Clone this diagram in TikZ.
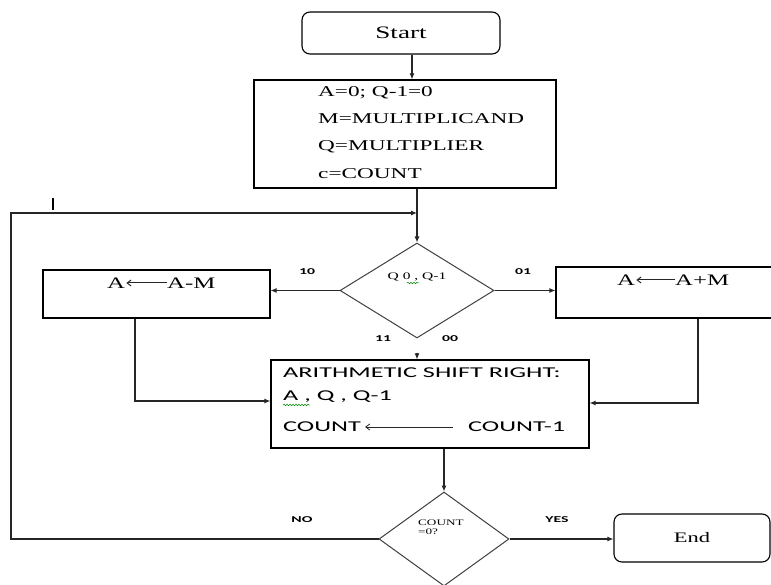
\documentclass[tikz,border=0pt]{standalone}
\usepackage{fontspec}
\setmainfont{Liberation Serif}
\newfontfamily\tnr[FakeStretch=1.55]{Liberation Serif}
\newfontfamily\calfont[FakeStretch=1.75]{Carlito}
\usetikzlibrary{shapes.geometric,arrows.meta,decorations.pathmorphing}
\tikzset{
  box/.style={draw=black, line width=1.1pt, inner sep=0pt},
  rbox/.style={box, rounded corners=8pt},
  dia/.style={draw=black!75, line width=1pt, diamond, inner sep=0pt},
  conn/.style={draw=black!85, line width=1.1pt},
  arr/.style={conn, -{Latex[length=6pt,width=5pt]}},
  thinarr/.style={draw=black!85, line width=0.8pt, -{Straight Barb[length=4pt,width=6pt]}},
  stxt/.style={inner sep=0pt, font=\tnr\fontsize{15}{17}\selectfont},
  mtxt/.style={inner sep=0pt, font=\tnr\fontsize{16}{18}\selectfont},
  ctxt/.style={inner sep=0pt, font=\calfont\fontsize{15}{17}\selectfont},
  lab/.style={inner sep=0pt, font=\calfont\bfseries\fontsize{9}{10}\selectfont},
  squig/.style={draw=green!55!black, line width=0.5pt, decorate,
    decoration={snake, amplitude=0.8pt, segment length=3pt}}
}
\begin{document}
\begin{tikzpicture}[x=1pt,y=-1pt]
\useasboundingbox (0,0) rectangle (771,585);
\fill[white] (0,0) rectangle (771,585);

% Start
\node[rbox, minimum width=198pt, minimum height=42pt,
      font=\tnr\fontsize{17.5}{19}\selectfont] (start) at (401,33) {Start};

% Init box
\node[box, minimum width=302pt, minimum height=108pt] (init) at (405,134) {};
\node[stxt, anchor=west] (i1) at (318,93) {A=0; Q-1=0};
\node[stxt, anchor=west] (i2) at (318,119) {M=MULTIPLICAND};
\node[stxt, anchor=west] (i3) at (318,147) {Q=MULTIPLIER};
\node[stxt, anchor=west] (i4) at (318,174) {c=COUNT};

\draw[arr] ([xshift=11pt]start.south) -- ([xshift=11pt]start.south |- init.north);

% Q diamond
\node[dia, minimum width=154pt, minimum height=95pt] (q) at (417,290.5) {};
\node[inner sep=0pt, font=\tnr\fontsize{10}{11}\selectfont] (qt) at (417,277) {Q 0 , Q-1};
\draw[squig] (407,283) -- (419,283);

\coordinate (join) at (417,213);
\coordinate (lp) at (11,213);
\draw[conn] (init.south -| q.north) -- (join);
\draw[arr] (join) -- (q.north);

% Labels
\node[lab] (l10) at (307,272) {10};
\node[lab] (l01) at (523,272) {01};
\node[lab] (l11) at (383,339) {11};
\node[lab] (l00) at (450,339) {00};

% A <- A-M box
\node[box, minimum width=227pt, minimum height=48pt] (amb) at (156.5,294) {};
\node[mtxt, anchor=west] (m1) at (107,283) {A};
\node[mtxt, anchor=west] (m2) at (167,283) {A-M};
\draw[thinarr, line width=1pt, shorten >=1pt] (m2.west) -- (m1.east);

% A <- A+M box
\node[box, minimum width=224pt, minimum height=51pt] (apb) at (668,292.5) {};
\node[mtxt, anchor=west] (m3) at (617,280) {A};
\node[mtxt, anchor=west] (m4) at (675,280) {A+M};
\draw[thinarr, line width=1pt, shorten >=1pt] (m4.west) -- (m3.east);

\draw[arr] (q.west) -- (q.west -| amb.east);
\draw[arr] (q.east) -- (q.east -| apb.west);

% Shift box
\node[box, minimum width=318pt, minimum height=88pt] (shift) at (430,404) {};
\node[ctxt, anchor=west] (s1) at (283,373) {ARITHMETIC SHIFT RIGHT:};
\node[ctxt, anchor=west] (s2) at (283,397) {A , Q , Q-1};
\draw[squig] (283,405) -- (310,405);
\node[ctxt, anchor=west] (s3) at (283,427) {COUNT};
\node[ctxt, anchor=west] (s4) at (468,427) {COUNT-1};
\draw[thinarr, shorten <=15pt, shorten >=4pt] (s4.west) -- (s3.east);

\draw[arr, shorten <=14pt] (q.south) -- (q.south |- shift.north);
\draw[arr] ([xshift=-21.5pt]amb.south) |- ([yshift=3pt]shift.west);
\draw[arr] ([xshift=30pt]apb.south) |- ([yshift=1pt]shift.east);

% Count diamond
\node[dia, minimum width=130pt, minimum height=94pt] (cnt) at (444,539) {};
\node[inner sep=0pt, anchor=west, align=left,
      font=\tnr\fontsize{8.5}{8.5}\selectfont] (ct) at (418,527) {COUNT\\=0?};
\draw[arr] (shift.south -| cnt.north) -- (cnt.north);

% End
\node[rbox, minimum width=156pt, minimum height=48pt,
      font=\tnr\fontsize{14.5}{16}\selectfont] (end) at (692,538) {End};
\draw[arr] (cnt.east) -- (cnt.east -| end.west);

\node[lab] (no) at (302,520) {NO};
\node[lab] (yes) at (557,520) {YES};

% Loop back
\draw[arr] (cnt.west) -| (lp) -- (join);

% stray tick mark
\draw[line width=1.2pt] (53,198) -- (53,210);
\end{tikzpicture}
\end{document}
